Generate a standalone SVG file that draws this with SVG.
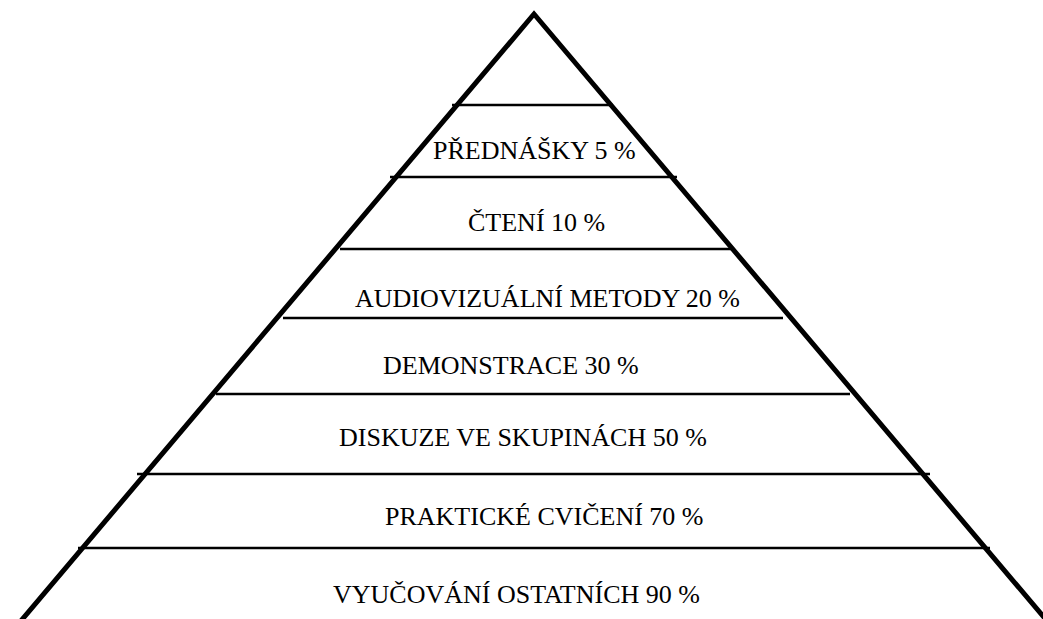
<svg xmlns="http://www.w3.org/2000/svg" width="1043" height="619" viewBox="0 0 1043 619">
  <style>
    .edge { stroke: #000; stroke-width: 5; fill: none; stroke-linecap: butt; stroke-linejoin: miter; }
    .sep { stroke: #000; stroke-width: 2.5; }
    .lbl { font-family: "Liberation Serif", "Times New Roman", "DejaVu Serif", serif; font-size: 26px; fill: #000; }
  </style>
  <rect width="1043" height="619" fill="#fff"/>
  <g id="connectors">
    <polyline class="edge" points="20,622 534,14 1048,622"/>
  </g>
  <g id="top">
    <line class="sep" x1="452" y1="105" x2="613" y2="105"/>
  </g>
  <g id="prednasky">
    <text class="lbl" x="433" y="159">PŘEDNÁŠKY 5 %</text>
    <line class="sep" x1="390" y1="177" x2="677" y2="177"/>
  </g>
  <g id="cteni">
    <text class="lbl" x="468" y="231">ČTENÍ 10 %</text>
    <line class="sep" x1="340" y1="249" x2="732" y2="249"/>
  </g>
  <g id="audiovizualni">
    <text class="lbl" x="355" y="307">AUDIOVIZUÁLNÍ METODY 20 %</text>
    <line class="sep" x1="283" y1="318" x2="783" y2="318"/>
  </g>
  <g id="demonstrace">
    <text class="lbl" x="383" y="374">DEMONSTRACE 30 %</text>
    <line class="sep" x1="216" y1="394" x2="850" y2="394"/>
  </g>
  <g id="diskuze">
    <text class="lbl" x="339" y="446">DISKUZE VE SKUPINÁCH 50 %</text>
    <line class="sep" x1="137" y1="474" x2="930" y2="474"/>
  </g>
  <g id="prakticke">
    <text class="lbl" x="385" y="525">PRAKTICKÉ CVIČENÍ 70 %</text>
    <line class="sep" x1="78" y1="548" x2="990" y2="548"/>
  </g>
  <g id="vyucovani">
    <text class="lbl" x="333" y="603">VYUČOVÁNÍ OSTATNÍCH 90 %</text>
  </g>
</svg>
